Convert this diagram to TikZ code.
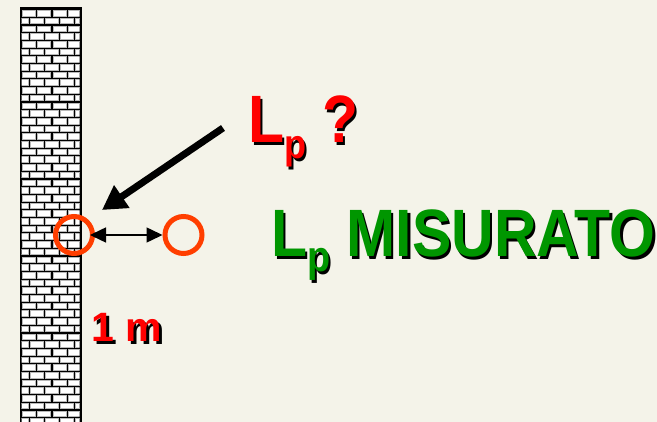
\documentclass[tikz,border=0pt]{standalone}
\usepackage{fontspec}
\setmainfont{Liberation Sans}
\usetikzlibrary{arrows.meta}
\definecolor{bgcream}{RGB}{244,243,233}
\definecolor{ringred}{RGB}{255,62,0}
\definecolor{txtred}{RGB}{255,0,0}
\definecolor{txtgreen}{RGB}{0,150,0}
\definecolor{brickedge}{RGB}{185,185,185}
\newcommand\lpsub[3]{L\raisebox{-#2pt}{\fontsize{#1}{#1}\selectfont p}#3}
\newcommand\shadowed[2]{\rlap{\hspace{2.5pt}\raisebox{-2.5pt}{\color{black}#2}}{\color{#1}#2}}
\tikzset{
  ring/.style={circle, draw=ringred, line width=5pt, minimum size=37pt, inner sep=0pt},
  bigtxt/.style={anchor=base west, inner sep=0pt, font=\bfseries\fontsize{67}{67}\selectfont},
  smalltxt/.style={anchor=base west, inner sep=0pt, font=\bfseries\fontsize{41}{41}\selectfont},
  brick/.style={fill=white, draw=brickedge, line width=0.5pt}
}
\begin{document}
\begin{tikzpicture}[x=1pt,y=-1pt]
\useasboundingbox (0,0) rectangle (657,422);
\fill[bgcream] (0,0) rectangle (657,422);
% wall
\fill[black] (19.5,7.5) rectangle (81.5,423);
\begin{scope}
\clip (21.5,9.5) rectangle (79.5,423);
\foreach \i in {0,...,54} {
  \pgfmathsetmacro{\yy}{9.5+\i*7.7}
  \pgfmathsetmacro{\off}{mod(\i,2)==0 ? 0 : -7.6}
  \foreach \j in {0,...,4} {
    \pgfmathsetmacro{\xx}{21.5+\off+\j*15.2}
    \draw[brick] (\xx+0.9,\yy+0.9) rectangle (\xx+14.0,\yy+6.5);
  }
}
\end{scope}
% rings
\node[ring] (c1) at (74,235) {};
\node[ring] (c2) at (183.5,235) {};
\draw[line width=1.5pt, {Triangle[length=16pt,width=15pt]}-{Triangle[length=16pt,width=15pt]}, shorten <=-5pt] (c1.east) -- (c2.west);
% pointer arrow
\coordinate (ts) at (223,128);
\coordinate (tt) at (102,210);
\draw[line width=7pt, -{Triangle[length=24pt,width=26pt]}] (ts) -- (tt);
% texts
\node[bigtxt] (lpq) at (248,143) {\scalebox{0.88}[1]{\shadowed{txtred}{\lpsub{41}{16}{ ?}}}};
\node[bigtxt] (lpm) at (271,257) {\scalebox{0.88}[1]{\shadowed{txtgreen}{\lpsub{43}{15}{ MISURATO}}}};
\node[smalltxt] (onem) at (91.5,342) {\shadowed{txtred}{1 m}};
\end{tikzpicture}
\end{document}
